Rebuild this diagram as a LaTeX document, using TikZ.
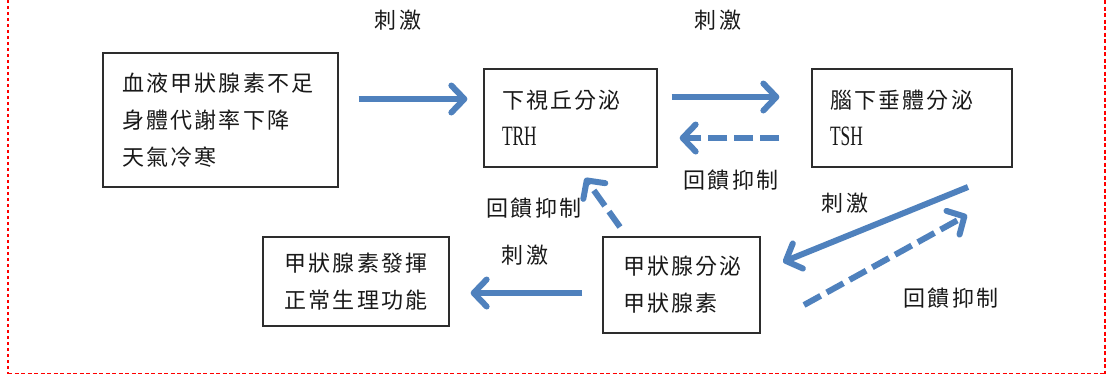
\documentclass[tikz,border=0pt]{standalone}
\usepackage{fontspec}
\setmainfont{Noto Sans CJK TC}[LetterSpace=10]
\newfontfamily\latn{Liberation Serif}[FakeStretch=0.62]
\usetikzlibrary{arrows.meta}
\definecolor{arrblue}{RGB}{79,129,189}
\definecolor{txtc}{RGB}{25,25,25}
\definecolor{boxc}{RGB}{45,45,45}
\tikzset{
  box/.style={draw=boxc, line width=1.3pt, rectangle, inner ysep=0pt, text=txtc,
    font=\fontsize{22}{37}\selectfont},
  lbl/.style={text=txtc, inner sep=0pt, font=\fontsize{22}{25}\selectfont},
  arr/.style={draw=arrblue, line width=6pt, line cap=butt,
    -{Straight Barb[length=13pt,width=27pt,round]}},
  darr/.style={arr, dash pattern=on 19pt off 7pt},
  frame/.style={draw=red}
}
\begin{document}
\begin{tikzpicture}[x=1pt,y=-1pt]
\useasboundingbox (0,0) rectangle (1107,375);
% boxes
\node[box, text width=197pt, inner xsep=19pt, minimum height=134pt, align=left] (b1) at (220.5,120)
  {血液甲狀腺素不足\\身體代謝率下降\\天氣冷寒};
\node[box, text width=137pt, inner xsep=18pt, minimum height=98pt, align=left] (b2) at (570.5,118)
  {下視丘分泌\\{\latn\fontsize{28}{37}\selectfont TRH}};
\node[box, text width=164pt, inner xsep=18pt, minimum height=98pt, align=left] (b3) at (912,118)
  {腦下垂體分泌\\{\latn\fontsize{28}{37}\selectfont TSH}};
\node[box, text width=117pt, inner xsep=20pt, minimum height=96pt, align=left] (b4) at (681.5,285)
  {甲狀腺分泌\\甲狀腺素};
\node[box, text width=150pt, inner xsep=18pt, minimum height=89pt, align=center] (b5) at (356,281.5)
  {甲狀腺素發揮\\正常生理功能};
% labels
\node[lbl] (l1) at (398,20) {刺激};
\node[lbl] (l2) at (718,20) {刺激};
\node[lbl] (l3) at (731,180) {回饋抑制};
\node[lbl] (l4) at (534,208) {回饋抑制};
\node[lbl] (l5) at (525,255) {刺激};
\node[lbl] (l6) at (845,203) {刺激};
\node[lbl] (l7) at (951,298) {回饋抑制};
% arrows
\draw[arr, shorten <=20pt, shorten >=16pt] ([yshift=21pt]b1.east) -- ([yshift=21pt]b1.east -| b2.west);
\draw[arr, shorten <=14pt, shorten >=32pt] ([yshift=21pt]b2.east) -- ([yshift=21pt]b2.east -| b3.west);
\draw[darr, shorten <=32pt, shorten >=22pt] ([yshift=-20pt]b3.west) -- ([yshift=-20pt]b3.west -| b2.east);
\draw[arr, shorten <=20pt, shorten >=21pt] ([yshift=-8pt]b4.west) -- ([yshift=-8pt]b4.west -| b5.east);
\coordinate (a4s) at (620,227);
\coordinate (a4e) at (585,178);
\draw[darr] (a4s) -- (a4e);
\coordinate (a5s) at (968,187);
\coordinate (a5e) at (783,262);
\draw[arr] (a5s) -- (a5e);
\coordinate (a7s) at (804,305);
\coordinate (a7e) at (967,215);
\draw[darr] (a7s) -- (a7e);
% frame
\draw[frame, line width=2.6pt, dash pattern=on 2.6pt off 3.4pt] (8,0) -- (8,374);
\draw[frame, line width=1.8pt, dash pattern=on 4pt off 2.5pt] (8,373.5) -- (1104.5,373.5);
\draw[frame, line width=2pt, dash pattern=on 4pt off 2.5pt] (1104.5,0) -- (1104.5,374);
\end{tikzpicture}
\end{document}
